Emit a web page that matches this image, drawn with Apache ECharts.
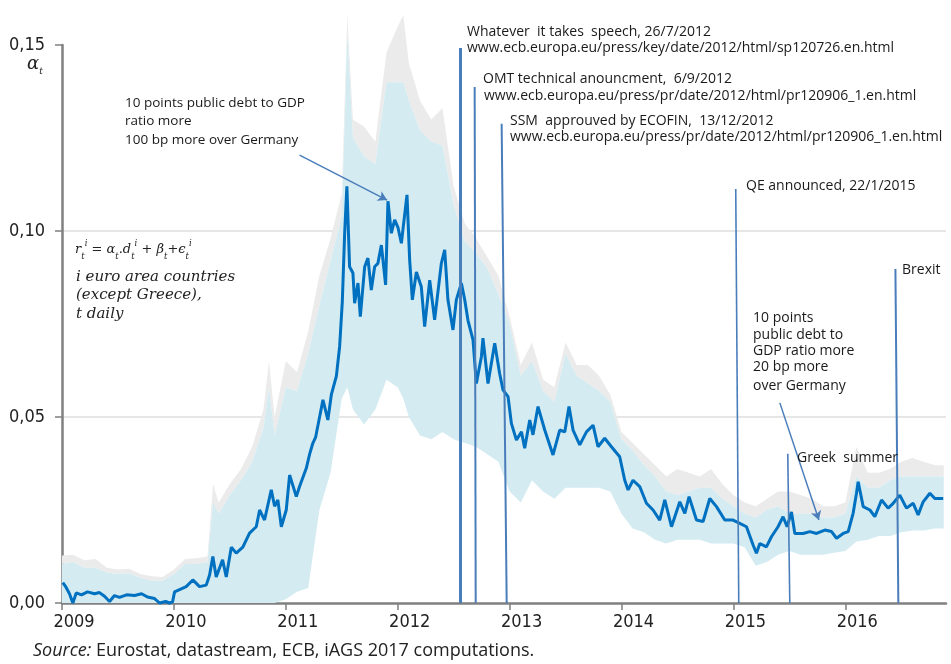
<!DOCTYPE html>
<html>
<head>
<meta charset="utf-8">
<script src="https://cdn.jsdelivr.net/npm/echarts@6/dist/echarts.min.js"></script>
<style>html,body{margin:0;padding:0;background:#fff}#c{width:951px;height:664px}</style>
</head>
<body>
<div id="c"></div>
<script>
// ---- data: alpha_t (main estimate) as [year, value] ----
const alpha2009 = [[2009.007,0.0055],[2009.031,0.0045],[2009.067,0.0025],[2009.097,0.0],[2009.127,0.0027],[2009.174,0.0022],[2009.228,0.003],[2009.291,0.0025],[2009.335,0.0028],[2009.380,0.0018],[2009.425,0.0004],[2009.469,0.002],[2009.514,0.0015],[2009.577,0.0022],[2009.648,0.002],[2009.711,0.0025],[2009.764,0.0016],[2009.827,0.0012],[2009.872,0.0],[2009.926,0.0004],[2009.961,0.0],[2009.988,0.0003]];
const alpha2010 = [[2010.006,0.003],[2010.110,0.0044],[2010.169,0.0062],[2010.229,0.0044],[2010.289,0.0048],[2010.319,0.0075],[2010.348,0.0125],[2010.378,0.007],[2010.435,0.0116],[2010.468,0.007],[2010.513,0.015],[2010.557,0.0134],[2010.616,0.015],[2010.676,0.0188],[2010.736,0.0205],[2010.766,0.025],[2010.810,0.0223],[2010.870,0.0304],[2010.900,0.026],[2010.929,0.0277],[2010.960,0.0205]];
const alpha2011 = [[2011.004,0.025],[2011.034,0.0344],[2011.094,0.0286],[2011.123,0.0313],[2011.183,0.0362],[2011.213,0.040],[2011.242,0.043],[2011.266,0.0445],[2011.302,0.050],[2011.332,0.0546],[2011.376,0.0492],[2011.407,0.056],[2011.452,0.061],[2011.481,0.0689],[2011.505,0.081],[2011.526,0.0994],[2011.546,0.112],[2011.570,0.0904],[2011.600,0.0887],[2011.615,0.0806],[2011.645,0.086],[2011.666,0.077],[2011.705,0.0904],[2011.734,0.0927],[2011.764,0.0841],[2011.794,0.0904],[2011.823,0.0913],[2011.854,0.0962],[2011.892,0.0855],[2011.913,0.108],[2011.943,0.0994],[2011.973,0.103]];
const alpha2012 = [[2012.002,0.101],[2012.033,0.0967],[2012.053,0.102],[2012.083,0.1097],[2012.107,0.0922],[2012.131,0.0815],[2012.167,0.089],[2012.211,0.085],[2012.241,0.0743],[2012.286,0.0868],[2012.330,0.0761],[2012.390,0.0913],[2012.420,0.0949],[2012.449,0.0815],[2012.494,0.0734],[2012.524,0.0815],[2012.569,0.086],[2012.599,0.0815],[2012.628,0.076],[2012.673,0.0707],[2012.703,0.059],[2012.748,0.0662],[2012.762,0.0712],[2012.807,0.059],[2012.867,0.0698],[2012.911,0.0617],[2012.941,0.0573],[2012.986,0.0555]];
const alpha2013 = [[2013.016,0.0483],[2013.061,0.0438],[2013.106,0.046],[2013.135,0.0416],[2013.180,0.0492],[2013.209,0.0452],[2013.254,0.0528],[2013.314,0.0465],[2013.388,0.0398],[2013.448,0.0465],[2013.493,0.046],[2013.531,0.0528],[2013.567,0.0465],[2013.627,0.0425],[2013.687,0.046],[2013.746,0.0478],[2013.790,0.042],[2013.850,0.0443],[2013.910,0.042],[2013.984,0.0393]];
const alpha2014 = [[2014.029,0.033],[2014.059,0.0304],[2014.103,0.033],[2014.163,0.0313],[2014.223,0.0268],[2014.282,0.025],[2014.342,0.0223],[2014.387,0.0277],[2014.447,0.0205],[2014.521,0.0272],[2014.566,0.0241],[2014.604,0.0286],[2014.670,0.0223],[2014.729,0.0219],[2014.789,0.0281],[2014.849,0.0259],[2014.923,0.0223],[2014.997,0.0223]];
const alpha2015 = [[2015.057,0.0214],[2015.117,0.0205],[2015.176,0.0156],[2015.206,0.0134],[2015.236,0.016],[2015.295,0.0151],[2015.340,0.0178],[2015.399,0.0205],[2015.444,0.0232],[2015.480,0.0205],[2015.519,0.0245],[2015.549,0.0187],[2015.623,0.0187],[2015.683,0.0192],[2015.743,0.0187],[2015.817,0.0196],[2015.877,0.0192],[2015.922,0.0174],[2015.981,0.0187]];
const alpha2016 = [[2016.026,0.0192],[2016.070,0.0241],[2016.100,0.0295],[2016.115,0.0326],[2016.160,0.0259],[2016.220,0.025],[2016.264,0.0232],[2016.324,0.0277],[2016.383,0.0255],[2016.428,0.0268],[2016.487,0.029],[2016.547,0.0255],[2016.607,0.0268],[2016.651,0.0237],[2016.696,0.0272],[2016.756,0.0295],[2016.800,0.0281],[2016.875,0.0281]];

// ---- data: bands as [year, outer (grey) upper, inner (blue) upper, blue lower] ----
const band2009 = [[2009.0,0.0128,0.0105,0],[2009.1,0.013,0.011,0],[2009.2,0.0115,0.0095,0],[2009.3,0.0118,0.0095,0],[2009.4,0.0095,0.0082,0],[2009.5,0.009,0.0078,0],[2009.6,0.0092,0.008,0],[2009.7,0.0078,0.0068,0],[2009.8,0.0072,0.006,0],[2009.9,0.007,0.006,0]];
const band2010 = [[2010.0,0.009,0.0078,0],[2010.1,0.0118,0.0105,0],[2010.2,0.012,0.0105,0],[2010.3,0.0125,0.011,0],[2010.35,0.032,0.027,0],[2010.4,0.027,0.024,0],[2010.5,0.032,0.029,0],[2010.6,0.036,0.033,0],[2010.7,0.042,0.038,0],[2010.8,0.052,0.047,0],[2010.85,0.065,0.058,0],[2010.9,0.05,0.045,0]];
const band2011 = [[2011.0,0.065,0.058,0.001],[2011.1,0.062,0.057,0.003],[2011.2,0.073,0.067,0.004],[2011.3,0.088,0.080,0.025],[2011.4,0.098,0.092,0.035],[2011.5,0.110,0.104,0.055],[2011.55,0.158,0.153,0.058],[2011.6,0.130,0.125,0.052],[2011.7,0.128,0.120,0.048],[2011.8,0.124,0.118,0.052],[2011.9,0.148,0.140,0.060]];
const band2012 = [[2012.0,0.155,0.140,0.058],[2012.05,0.158,0.140,0.055],[2012.1,0.145,0.135,0.050],[2012.2,0.135,0.127,0.045],[2012.3,0.130,0.124,0.044],[2012.4,0.133,0.123,0.046],[2012.5,0.112,0.107,0.044],[2012.6,0.102,0.097,0.043],[2012.7,0.098,0.094,0.042],[2012.8,0.093,0.090,0.040],[2012.9,0.088,0.083,0.038]];
const band2013 = [[2013.0,0.077,0.075,0.030],[2013.1,0.064,0.061,0.027],[2013.2,0.070,0.065,0.033],[2013.3,0.060,0.057,0.030],[2013.4,0.058,0.054,0.028],[2013.5,0.070,0.067,0.031],[2013.6,0.064,0.061,0.031],[2013.7,0.064,0.059,0.031],[2013.8,0.061,0.057,0.031],[2013.9,0.056,0.054,0.030]];
const band2014 = [[2014.0,0.046,0.044,0.024],[2014.1,0.043,0.041,0.020],[2014.2,0.040,0.037,0.019],[2014.3,0.037,0.034,0.017],[2014.4,0.034,0.030,0.016],[2014.5,0.036,0.029,0.017],[2014.6,0.035,0.030,0.017],[2014.7,0.034,0.031,0.017],[2014.8,0.036,0.031,0.016],[2014.9,0.032,0.028,0.016]];
const band2015 = [[2015.0,0.029,0.026,0.016],[2015.1,0.027,0.024,0.015],[2015.2,0.026,0.023,0.010],[2015.3,0.028,0.025,0.011],[2015.4,0.030,0.026,0.013],[2015.5,0.030,0.024,0.014],[2015.6,0.029,0.024,0.013],[2015.7,0.028,0.024,0.013],[2015.8,0.026,0.023,0.013],[2015.9,0.026,0.023,0.0135]];
const band2016 = [[2016.0,0.027,0.024,0.014],[2016.1,0.042,0.034,0.0165],[2016.2,0.035,0.031,0.017],[2016.3,0.035,0.031,0.018],[2016.4,0.036,0.033,0.018],[2016.5,0.038,0.034,0.019],[2016.6,0.039,0.034,0.0195],[2016.7,0.038,0.034,0.0195],[2016.8,0.037,0.034,0.020],[2016.88,0.037,0.034,0.020]];

// ---- events: bottom date, top date (lines lean slightly), top value, line width ----
const eventNames = ['Whatever it takes','OMT','SSM','QE','Greek summer','Brexit'];
const eventDates = [2012.563, 2012.697, 2012.974, 2015.048, 2015.504, 2016.474];
const eventTopDates = [2012.563, 2012.688, 2012.929, 2015.021, 2015.486, 2016.448];
const eventTops = [0.1492, 0.1387, 0.1288, 0.1113, 0.0401, 0.0898];
const eventWidths = [3, 2, 2, 1.6, 1.6, 2];

// ---- arrows: [fromDate, fromValue, toDate, toValue] ----
const arrows = [[2011.123, 0.1204, 2011.905, 0.1083], [2015.415, 0.0538, 2015.764, 0.0223]];

const yTickLabels = {0: '0,00', 0.05: '0,05', 0.1: '0,10', 0.15: '0,15'};

// ---- build ----
const alpha = [].concat(alpha2009, alpha2010, alpha2011, alpha2012, alpha2013, alpha2014, alpha2015, alpha2016);
const band = [].concat(band2009, band2010, band2011, band2012, band2013, band2014, band2015, band2016);

// polygon band drawn through the axes' scales (api.coord)
function bandSeries(name, upperIdx, lowerIdx, color, z) {
  return {
    name: name, type: 'custom', z: z, silent: true, clip: false,
    data: [0],
    renderItem: function (params, api) {
      const up = band.map(r => api.coord([r[0], r[upperIdx]]));
      const lo = band.slice().reverse().map(r => api.coord([r[0], r[lowerIdx]]));
      return { type: 'polygon', shape: { points: up.concat(lo) }, style: { fill: color, stroke: null } };
    }
  };
}

const lineBlue = '#4a7ebb';
const annFont = '"Open Sans", sans-serif';
const txt = (x, y, s, size) => ({
  type: 'text', left: x, top: y, silent: true, z: 100,
  style: { text: s, fontFamily: annFont, fontSize: size || 14, fill: '#1a1a1a' }
});
const itxt = (x, y, s) => ({
  type: 'text', left: x, top: y, silent: true, z: 100,
  style: { text: s, fontFamily: '"DejaVu Serif", serif', fontStyle: 'italic', fontSize: 15, fill: '#222' }
});

const chart = echarts.init(document.getElementById('c'), null, { renderer: 'canvas' });

chart.setOption({
  animation: false,
  backgroundColor: '#fff',
  grid: { left: 62, right: 5, top: 45, bottom: 61, containLabel: false },
  xAxis: {
    type: 'value', min: 2009, max: 2016.9, interval: 1,
    axisLine: { show: true, lineStyle: { color: '#808080', width: 2.5 } },
    axisTick: { show: true, length: 7, lineStyle: { color: '#808080', width: 1.5 } },
    splitLine: { show: false },
    axisLabel: { formatter: v => String(v), margin: 10, padding: [0, 0, 0, 24], color: '#222', alignMinLabel: 'center',
      fontFamily: '"Liberation Sans Narrow", "DejaVu Sans Condensed", sans-serif', fontSize: 18, showMaxLabel: false }
  },
  yAxis: {
    type: 'value', min: 0, max: 0.15, interval: 0.05,
    axisLine: { show: true, lineStyle: { color: '#808080', width: 2.5 } },
    axisTick: { show: true, length: 7, lineStyle: { color: '#808080', width: 1.5 } },
    splitLine: { show: true, lineStyle: { color: ['rgba(0,0,0,0)', '#e6e6e6', '#e6e6e6', 'rgba(0,0,0,0)'], width: 2 } },
    axisLabel: { formatter: v => yTickLabels[Math.round(v * 100) / 100], margin: 17, color: '#222',
      fontFamily: '"Liberation Sans Narrow", "DejaVu Sans Condensed", sans-serif', fontSize: 18 }
  },
  series: [
    bandSeries('outer band', 1, 2, '#ebebeb', 1),
    bandSeries('inner band', 2, 3, '#d3ebf1', 2),
    {
      name: 'alpha', type: 'line', data: alpha, showSymbol: false, symbol: 'none', z: 3, silent: true,
      lineStyle: { color: '#0070c0', width: 3 }, clip: false
    },
    {
      name: 'events', type: 'line', data: [], z: 5, silent: true,
      markLine: {
        silent: true, symbol: ['none', 'none'], label: { show: false }, animation: false,
        data: eventDates.map((d, i) => [
          { coord: [eventTopDates[i], eventTops[i]], lineStyle: { color: lineBlue, width: eventWidths[i], type: 'solid' } },
          { coord: [d, 0] }
        ])
      }
    },
    {
      name: 'arrows', type: 'line', data: [], z: 6, silent: true,
      markLine: {
        silent: true, symbol: ['none', 'arrow'], symbolSize: [8, 9], label: { show: false }, animation: false,
        lineStyle: { color: lineBlue, width: 1.5, type: 'solid' },
        data: arrows.map(a => [{ coord: [a[0], a[1]] }, { coord: [a[2], a[3]] }])
      }
    }
  ],
  graphic: [
    txt(467, 25, 'Whatever  it takes  speech, 26/7/2012'),
    txt(467, 41, 'www.ecb.europa.eu/press/key/date/2012/html/sp120726.en.html'),
    txt(483, 72, 'OMT technical anouncment,  6/9/2012'),
    txt(484, 89, 'www.ecb.europa.eu/press/pr/date/2012/html/pr120906_1.en.html'),
    txt(510, 114, 'SSM  approuved by ECOFIN,  13/12/2012'),
    txt(510, 130, 'www.ecb.europa.eu/press/pr/date/2012/html/pr120906_1.en.html'),
    txt(746, 179, 'QE announced, 22/1/2015'),
    txt(902, 263, 'Brexit'),
    txt(753, 311, '10 points'),
    txt(753, 328, 'public debt to'),
    txt(753, 344, 'GDP ratio more'),
    txt(753, 360, '20 bp more'),
    txt(753, 379, 'over Germany'),
    txt(797, 451, 'Greek  summer'),
    txt(125, 96, '10 points public debt to GDP', 13.5),
    txt(125, 114, 'ratio more', 13.5),
    txt(125, 133, '100 bp more over Germany', 13.5),
    {
      type: 'text', left: 75, top: 239, silent: true, z: 100,
      style: {
        text: '{i|r}{s|t}{p|i}{i| = α}{s|t}{i|.d}{s|t}{p|i}{i| + β}{s|t}{i|+ϵ}{s|t}{p|i}',
        rich: {
          i: { fontFamily: '"DejaVu Serif", serif', fontStyle: 'italic', fontSize: 13, fill: '#222', lineHeight: 22 },
          s: { fontFamily: '"DejaVu Serif", serif', fontStyle: 'italic', fontSize: 8.5, fill: '#222', verticalAlign: 'bottom', lineHeight: 12 },
          p: { fontFamily: '"DejaVu Serif", serif', fontStyle: 'italic', fontSize: 8.5, fill: '#222', verticalAlign: 'top', lineHeight: 12 }
        }
      }
    },
    itxt(76, 270, 'i euro area countries'),
    itxt(76, 288, '(except Greece),'),
    itxt(76, 307, 't daily'),
    {
      type: 'text', left: 27, top: 55, silent: true, z: 100,
      style: {
        text: '{i|α}{s|t}',
        rich: {
          i: { fontFamily: '"DejaVu Serif", serif', fontStyle: 'italic', fontSize: 18, fill: '#222', lineHeight: 24 },
          s: { fontFamily: '"DejaVu Serif", serif', fontStyle: 'italic', fontSize: 9, fill: '#222', verticalAlign: 'bottom', lineHeight: 10 }
        }
      }
    },
    {
      type: 'text', left: 33, top: 642, silent: true, z: 100,
      style: {
        text: '{it|Source:}{n| Eurostat, datastream, ECB, iAGS 2017 computations.}',
        rich: {
          it: { fontFamily: annFont, fontStyle: 'italic', fontSize: 18, fill: '#222' },
          n: { fontFamily: annFont, fontSize: 18, fill: '#222' }
        }
      }
    }
  ]
});
</script>
</body>
</html>
